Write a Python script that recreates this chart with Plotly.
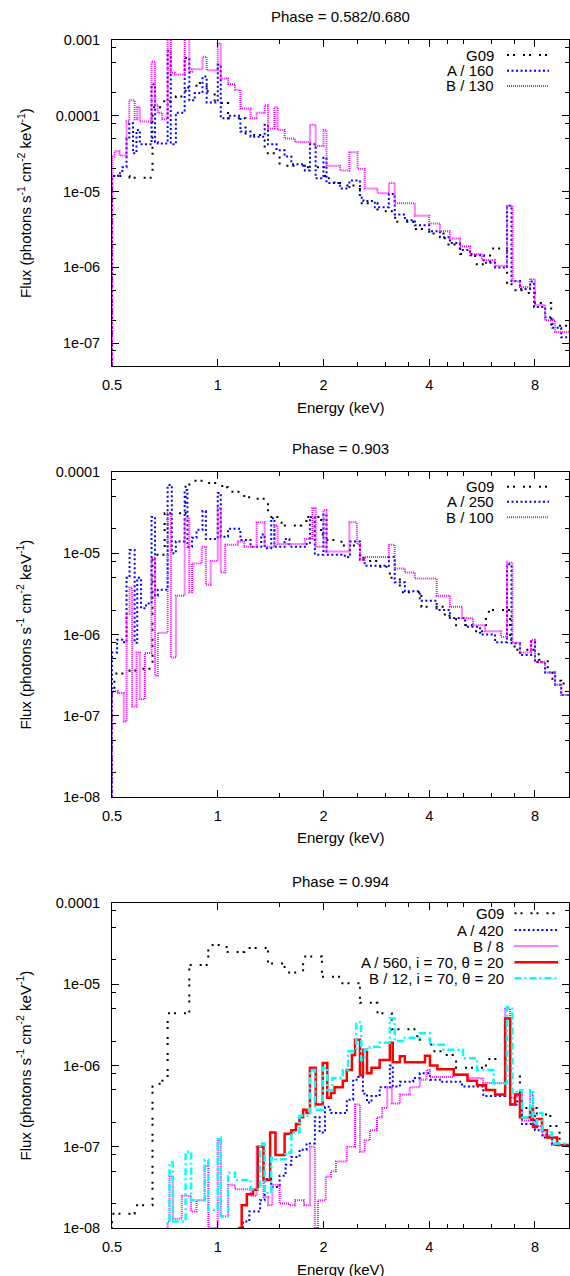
import math
import plotly.graph_objects as go

# ---------------- data (energy bin left edges in keV, flux in photons s^-1 cm^-2 keV^-1) ----------------
# Panel 1 : Phase = 0.582/0.680
p1_g09_e = [0.5, 0.561, 0.652, 0.69, 0.76, 0.81, 0.87, 0.93, 0.98, 1.07, 1.2, 1.36, 1.5, 1.77, 2.02, 2.15,
            2.3, 2.54, 2.85, 3.2, 3.6, 4.0, 4.43, 4.9, 5.4, 5.96, 6.66, 6.93, 7.5, 8.0, 8.9]
p1_g09_f = [1.6e-5, 1.52e-5, 1.3e-4, 1.55e-4, 1.8e-4, 2.37e-4, 2.7e-4, 2.1e-4, 1.47e-4, 9.3e-5, 5.6e-5, 3.2e-5,
            2.2e-5, 2.1e-5, 1.5e-5, 1.3e-5, 1.2e-5, 7e-6, 5.5e-6, 4e-6, 3.2e-6, 2.8e-6, 2.0e-6, 1.5e-6, 1.1e-6,
            1.77e-6, 6e-7, 5e-7, 4.6e-7, 3.4e-7, 1.7e-7]

p1_a_e = [0.5, 0.52, 0.535, 0.55, 0.56, 0.574, 0.587, 0.6, 0.648, 0.663, 0.675, 0.72, 0.735, 0.76, 0.805, 0.83,
          0.86, 0.905, 0.93, 1.0, 1.02, 1.07, 1.16, 1.24, 1.36, 1.39, 1.47, 1.55, 1.62, 1.77, 1.83, 1.9, 2.0,
          2.04, 2.23, 2.37, 2.54, 2.6, 2.8, 3.07, 3.19, 3.41, 3.64, 4.0, 4.29, 4.58, 4.89, 5.23, 5.73, 6.16,
          6.66, 6.86, 7.25, 7.75, 7.95, 8.55, 8.97, 9.5]
p1_a_f = [1.6e-5, 1.75e-5, 2.1e-5, 5e-5, 8e-5, 3.2e-5, 6.5e-5, 4.2e-5, 2.6e-4, 4.5e-5, 4.3e-5, 7.2e-4, 4.2e-5,
          1.1e-4, 5.8e-4, 1.6e-4, 2e-4, 3.3e-4, 1.5e-4, 4.7e-4, 9.3e-5, 1.0e-4, 6.2e-5, 5.3e-5, 7.6e-5, 4.2e-5,
          3.5e-5, 2.9e-5, 2.3e-5, 1.9e-5, 4.2e-5, 1.5e-5, 2.8e-5, 1.3e-5, 1.1e-5, 1.4e-5, 8.3e-6, 7.5e-6,
          6.2e-6, 9.3e-6, 5e-6, 4.2e-6, 3.6e-6, 3e-6, 2.5e-6, 2.1e-6, 1.7e-6, 1.45e-6, 1.15e-6, 1.0e-6,
          6.5e-6, 6.6e-7, 5.2e-7, 6.5e-7, 3e-7, 2.2e-7, 1.6e-7, 1.2e-7]

p1_b_e = [0.5, 0.508, 0.525, 0.55, 0.56, 0.58, 0.59, 0.6, 0.648, 0.663, 0.675, 0.695, 0.72, 0.735, 0.755, 0.805,
          0.83, 0.845, 0.905, 0.93, 1.0, 1.02, 1.07, 1.12, 1.16, 1.24, 1.29, 1.36, 1.39, 1.45, 1.48, 1.55, 1.66,
          1.83, 1.9, 2.0, 2.04, 2.23, 2.37, 2.5, 2.62, 2.85, 3.07, 3.19, 3.64, 4.0, 4.29, 4.58, 4.89, 5.23,
          5.65, 6.16, 6.66, 6.9, 7.25, 7.75, 8.0, 8.55, 9.13]
p1_b_f = [2.9e-5, 3.4e-5, 3.0e-5, 8.5e-5, 1.6e-4, 9e-5, 1.3e-4, 8.4e-5, 5.2e-4, 1.4e-4, 1.1e-4, 9e-5, 1.2e-3,
          3.7e-4, 3.5e-4, 1.2e-3, 3.8e-4, 4.1e-4, 6e-4, 4e-4, 9e-4, 3.1e-4, 2.6e-4, 2.2e-4, 1.25e-4, 9.3e-5,
          1.1e-4, 1.38e-4, 6.8e-5, 1.3e-4, 6.5e-5, 5e-5, 4.5e-5, 7.6e-5, 4.0e-5, 6.5e-5, 2.2e-5, 1.9e-5,
          3.3e-5, 2.0e-5, 1.1e-5, 9.5e-6, 1.3e-5, 7e-6, 4.8e-6, 3.8e-6, 3.0e-6, 2.4e-6, 1.9e-6, 1.5e-6,
          1.25e-6, 1.05e-6, 6.5e-6, 6.5e-7, 5.5e-7, 7e-7, 3.2e-7, 2e-7, 1.4e-7]

# Panel 2 : Phase = 0.903
p2_g09_e = [0.5, 0.508, 0.561, 0.587, 0.652, 0.706, 0.81, 0.83, 0.918, 1.03, 1.07, 1.19, 1.24, 1.39, 1.52, 1.73,
            1.79, 1.97, 2.02, 2.25, 2.54, 2.6, 2.85, 3.09, 3.3, 3.8, 4.43, 4.77, 5.3, 5.8, 6.0, 6.8, 7.0, 8.2,
            8.7, 8.97, 9.5]
p2_g09_f = [2.1e-7, 3.3e-7, 3.6e-7, 3.8e-7, 9.6e-6, 3.1e-5, 6.6e-5, 7.8e-5, 7.3e-5, 6.5e-5, 5.7e-5, 4.9e-5,
            4.7e-5, 2.8e-5, 2.2e-5, 2.5e-5, 2.8e-5, 1.7e-5, 1.46e-5, 1.25e-5, 9.5e-6, 8e-6, 6.8e-6, 5e-6,
            3.3e-6, 2.2e-6, 1.7e-6, 1.3e-6, 1.1e-6, 1.9e-6, 2.0e-6, 8.6e-7, 6.5e-7, 4.9e-7, 3.8e-7, 2.7e-7,
            2.5e-7]

p2_a_e = [0.5, 0.517, 0.535, 0.55, 0.561, 0.58, 0.59, 0.605, 0.625, 0.648, 0.663, 0.675, 0.72, 0.74, 0.76,
          0.805, 0.82, 0.845, 0.87, 0.905, 0.925, 1.0, 1.02, 1.07, 1.16, 1.24, 1.33, 1.36, 1.42, 1.45, 1.55,
          1.6, 1.77, 1.83, 1.89, 2.0, 2.04, 2.3, 2.38, 2.54, 2.62, 3.07, 3.19, 3.41, 3.76, 4.2, 4.58, 5.06,
          5.58, 6.16, 6.66, 6.86, 7.25, 7.8, 8.0, 8.55, 9.13, 9.5]
p2_a_f = [6e-7, 8.6e-7, 8e-7, 5e-6, 1.1e-5, 7.9e-7, 5e-6, 2.1e-6, 2.4e-6, 2.8e-5, 3e-6, 3.55e-6, 6.9e-5, 1e-5,
          1.4e-5, 6e-5, 1.2e-5, 1.55e-5, 1.94e-5, 3.3e-5, 1.5e-5, 5.5e-5, 1.6e-5, 2.0e-5, 1.46e-5, 1.2e-5,
          1.7e-5, 1.15e-5, 2.7e-5, 1.2e-5, 1.5e-5, 1.2e-5, 1.3e-5, 2.8e-5, 9.6e-6, 3.0e-5, 9.6e-6, 9e-6,
          1.4e-5, 8.3e-6, 7e-6, 9e-6, 4.4e-6, 3.4e-6, 2.6e-6, 2e-6, 1.6e-6, 1.25e-6, 1.0e-6, 8e-7, 7.3e-6,
          7.8e-7, 5.6e-7, 8.2e-7, 4.6e-7, 3.4e-7, 2.4e-7, 1.8e-7]

p2_b_e = [0.5, 0.52, 0.54, 0.55, 0.561, 0.57, 0.587, 0.6, 0.62, 0.648, 0.663, 0.675, 0.72, 0.735, 0.76, 0.805,
          0.83, 0.845, 0.9, 0.925, 0.955, 1.0, 1.02, 1.05, 1.14, 1.19, 1.29, 1.36, 1.45, 1.48, 1.77, 1.86, 1.9,
          2.0, 2.04, 2.37, 2.49, 2.54, 2.62, 3.07, 3.19, 3.41, 3.64, 4.2, 4.58, 4.96, 5.33, 5.77, 6.4, 6.66,
          6.9, 7.25, 7.8, 8.0, 8.55, 9.13, 9.5]
p2_b_f = [2e-7, 1.9e-7, 8.5e-8, 1.8e-6, 3.8e-6, 1.3e-7, 6e-7, 1.6e-7, 5.9e-7, 8.8e-6, 3.1e-7, 1.05e-6, 3.1e-5,
          5.2e-7, 3e-6, 2.7e-5, 3.3e-6, 7.5e-6, 1.2e-5, 4.1e-6, 8e-6, 3.6e-5, 5.8e-6, 1.27e-5, 1.4e-5, 1.2e-5,
          2.4e-5, 1.2e-5, 2.2e-5, 1.3e-5, 1.5e-5, 3.6e-5, 1.2e-5, 3.4e-5, 1.05e-5, 2.4e-5, 1.3e-5, 8.3e-6,
          9e-6, 1.27e-5, 6.5e-6, 5.8e-6, 4.9e-6, 3.0e-6, 2.2e-6, 1.6e-6, 1.3e-6, 1.1e-6, 9.4e-7, 7.7e-6,
          7.9e-7, 6e-7, 8.6e-7, 4.6e-7, 3.4e-7, 2.4e-7, 1.8e-7]

# Panel 3 : Phase = 0.994
p3_g09_e = [0.5, 0.58, 0.652, 0.683, 0.72, 0.83, 0.94, 1.06, 1.19, 1.39, 1.55, 1.75, 1.98, 2.23, 2.54, 2.85,
            3.13, 3.7, 4.05, 4.4, 4.77, 5.8, 6.8, 7.25, 8.1, 8.85, 9.4]
p3_g09_f = [1.5e-8, 1.9e-8, 5.5e-7, 6.5e-7, 4.4e-6, 1.73e-5, 3.05e-5, 2.5e-5, 2.8e-5, 1.8e-5, 1.4e-5, 2.2e-5,
            1.24e-5, 1.03e-5, 5.9e-6, 4.4e-6, 2.8e-6, 2.07e-6, 1.5e-6, 1.35e-6, 9.4e-7, 1.2e-6, 7.3e-7, 3e-7,
            2.5e-7, 1.8e-7, 1.05e-7]

p3_a_e = [1.18, 1.23, 1.32, 1.36, 1.42, 1.5, 1.56, 1.62, 1.71, 1.79, 1.89, 1.95, 2.02, 2.09, 2.33, 2.43, 2.51,
          2.59, 2.66, 2.74, 2.89, 3.09, 3.15, 3.3, 3.6, 3.76, 4.02, 4.29, 4.96, 5.7, 6.58, 6.8, 7.1, 7.35, 7.8,
          8.0, 8.4, 8.95]
p3_a_f = [1.2e-8, 1.6e-8, 2.2e-8, 4e-8, 3.2e-8, 4.4e-8, 6e-8, 7.5e-8, 9.2e-8, 1.1e-7, 2.3e-7, 1.5e-7, 3.1e-7,
          2.6e-7, 3.8e-7, 6.7e-7, 7.2e-7, 4.5e-7, 3.5e-7, 4.2e-7, 5.4e-7, 1e-6, 5.5e-7, 6.3e-7, 7e-7, 8e-7,
          6.7e-7, 6.3e-7, 5.5e-7, 4.2e-7, 3.8e-6, 3.3e-7, 3.6e-7, 1.9e-7, 2.6e-7, 1.6e-7, 1.3e-7, 1.05e-7]

p3_b_e = [0.72, 0.729, 0.745, 0.79, 0.84, 0.87, 0.918, 0.94, 1.0, 1.02, 1.07, 1.12, 1.24, 1.29, 1.35, 1.39,
          1.43, 1.5, 1.6, 1.66, 1.76, 1.83, 1.89, 1.93, 2.03, 2.1, 2.17, 2.33, 2.46, 2.54, 2.62, 2.71, 2.84,
          2.94, 3.04, 3.13, 3.3, 3.52, 3.76, 3.93, 4.02, 4.7, 5.14, 5.7, 6.58, 6.8, 7.1, 7.35, 7.75, 7.9, 8.4,
          8.95]
p3_b_f = [1.2e-8, 4.3e-8, 1.3e-8, 2.5e-8, 1.6e-8, 2.2e-8, 5.8e-8, 1.0e-8, 1.2e-7, 1.4e-8, 3.4e-8, 3.0e-8,
          2.5e-8, 1e-7, 2.4e-8, 1.9e-8, 3.4e-8, 2e-8, 1.9e-8, 2.2e-8, 1.9e-8, 1.0e-7, 1.0e-8, 2.2e-8, 4.3e-8,
          5e-8, 6.6e-8, 1e-7, 3.3e-7, 8.7e-8, 1.2e-7, 1.6e-7, 2.3e-7, 3e-7, 5.4e-7, 3.4e-7, 4.4e-7, 5.4e-7,
          6.7e-7, 8.8e-7, 7.2e-7, 7.8e-7, 7e-7, 6.1e-7, 5e-6, 4e-7, 4.4e-7, 2.1e-7, 4.4e-7, 1.8e-7, 1.4e-7,
          1.05e-7]

p3_ai_e = [1.15, 1.17, 1.21, 1.26, 1.3, 1.35, 1.41, 1.46, 1.55, 1.62, 1.67, 1.71, 1.75, 1.79, 1.83, 1.9, 1.99,
           2.05, 2.1, 2.15, 2.27, 2.33, 2.41, 2.46, 2.54, 2.59, 2.66, 2.74, 2.89, 3.09, 3.15, 3.3, 3.41, 3.89,
           4.02, 4.22, 4.7, 5.14, 5.47, 5.8, 6.16, 6.58, 6.8, 7.02, 7.25, 7.75, 7.9, 8.1, 8.38, 8.65, 9.25]
p3_ai_f = [1.0e-8, 1.9e-8, 2.6e-8, 2.95e-8, 1.0e-7, 3.9e-8, 1.5e-7, 7.9e-8, 1.45e-7, 1.6e-7, 1.9e-7, 2.3e-7,
           2.85e-7, 2.6e-7, 9.4e-7, 3.3e-7, 1.07e-6, 4e-7, 4.6e-7, 5.4e-7, 6.5e-7, 8.8e-7, 1.35e-6, 2.07e-6,
           7.6e-7, 1.56e-6, 8e-7, 9.4e-7, 1.17e-6, 1.9e-6, 1.1e-6, 1.3e-6, 1.1e-6, 1.32e-6, 1.0e-6, 9e-7,
           7.7e-7, 6.5e-7, 5.7e-7, 5e-7, 4.4e-7, 3.8e-6, 3.3e-7, 4.4e-7, 2.3e-7, 3e-7, 1.75e-7, 2.2e-7,
           1.6e-7, 1.3e-7, 1.05e-7]

p3_bi_e = [0.72, 0.729, 0.745, 0.81, 0.84, 0.918, 0.94, 1.0, 1.02, 1.07, 1.12, 1.24, 1.32, 1.36, 1.42, 1.46,
           1.56, 1.62, 1.71, 1.83, 1.89, 1.99, 2.05, 2.12, 2.27, 2.35, 2.48, 2.56, 2.62, 2.71, 2.89, 3.09, 3.19,
           3.37, 3.76, 4.02, 4.4, 4.99, 5.47, 6.1, 6.66, 6.9, 7.1, 7.35, 7.75, 7.9, 8.1, 8.4, 8.95]
p3_bi_f = [1.2e-8, 6.4e-8, 1.2e-8, 8.7e-8, 2.2e-8, 6.9e-8, 1.67e-8, 1.3e-7, 1.4e-8, 4.8e-8, 3.9e-8, 3e-8,
           1.1e-7, 2.7e-8, 7.3e-8, 7e-8, 8.5e-8, 1.5e-7, 2.4e-7, 8.8e-7, 2.85e-7, 9.4e-7, 5e-7, 7e-7, 8.8e-7,
           1.5e-6, 3.4e-6, 1.17e-6, 1.56e-6, 1.7e-6, 1.9e-6, 3.8e-6, 2e-6, 2.2e-6, 2.5e-6, 1.8e-6, 1.56e-6,
           1.23e-6, 8.8e-7, 6e-7, 5.2e-6, 4.6e-7, 5e-7, 2.3e-7, 5e-7, 1.9e-7, 2.6e-7, 1.5e-7, 1.1e-7]

E_MAX = 10.0
FLOOR = 1e-9

titles = ["Phase = 0.582/0.680", "Phase = 0.903", "Phase = 0.994"]
x_ticks = [0.5, 1, 2, 4, 8]
x_minor = [1.5, 2.5, 3, 3.5, 4.5, 5, 6, 7]

# ---------------- styles ----------------
ST_G09 = dict(color="#000000", width=2, dash="2px,4px,2px,8px")
ST_A = dict(color="#0000ff", width=2, dash="2px,2.5px")
ST_B = dict(color="#ff00ff", width=2, dash="1px,1px")
ST_AI = dict(color="#ff0000", width=2.5, dash="solid")
ST_BI = dict(color="#00ffff", width=2.5, dash="7px,3px,2px,3px")

panels = [
    dict(series=[("G09", p1_g09_e, p1_g09_f, ST_G09), ("A / 160", p1_a_e, p1_a_f, ST_A),
                 ("B / 130", p1_b_e, p1_b_f, ST_B)],
         yr=(5e-8, 1e-3), ydec=(-7, -3), px=(40, 366), title_y=17, xt_y=407,
         leg_rows=[55, 70.7, 86], leg_x=496.4, leg_s=(507, 549)),
    dict(series=[("G09", p2_g09_e, p2_g09_f, ST_G09), ("A / 250", p2_a_e, p2_a_f, ST_A),
                 ("B / 100", p2_b_e, p2_b_f, ST_B)],
         yr=(1e-8, 1e-4), ydec=(-8, -4), px=(472, 797), title_y=448, xt_y=837,
         leg_rows=[486.7, 501.7, 517.3], leg_x=496.4, leg_s=(507, 549)),
    dict(series=[("G09", p3_g09_e, p3_g09_f, ST_G09), ("A / 420", p3_a_e, p3_a_f, ST_A),
                 ("B / 8", p3_b_e, p3_b_f, ST_B),
                 ("A / 560, i = 70, θ = 20", p3_ai_e, p3_ai_f, ST_AI),
                 ("B / 12, i = 70, θ = 20", p3_bi_e, p3_bi_f, ST_BI)],
         yr=(1e-8, 1e-4), ydec=(-8, -4), px=(903, 1228), title_y=881, xt_y=1269,
         leg_rows=[913.3, 930, 946, 962.3, 978.3], leg_x=505.5, leg_s=(514.5, 558)),
]

W, H = 570, 1276
L, R, T, B = 112, 1, 40, 48
PW = W - L - R
PH = H - T - B


def py(ypix):
    return (H - B - ypix) / PH


def pxx(xpix):
    return (xpix - L) / PW


def lab(v):
    e = int(round(math.log10(v)))
    if e >= -4:
        return ("%.*f" % (-e, v))
    return "1e-%02d" % (-e)


FONT = "Liberation Sans, Arial, Helvetica, sans-serif"
fig = go.Figure()
annotations = []
shapes = []

for i, p in enumerate(panels):
    n = "" if i == 0 else str(i + 1)
    xa, ya = "x" + n, "y" + n
    for name, e, f, st in p["series"]:
        fig.add_trace(go.Scatter(
            x=[e[0]] + list(e) + [E_MAX], y=[FLOOR] + list(f) + [f[-1]],
            mode="lines", line=dict(shape="hv", **st), name=name,
            xaxis=xa, yaxis=ya, showlegend=False, hoverinfo="skip"))
    dom = [py(p["px"][1]), py(p["px"][0])]
    yt = [10.0 ** k for k in range(p["ydec"][0], p["ydec"][1] + 1)]
    ymin = [m * 10.0 ** k for k in range(p["ydec"][0] - 1, p["ydec"][1]) for m in (2, 5, 8)]
    ymin = [v for v in ymin if p["yr"][0] < v < p["yr"][1]]
    fig.layout["xaxis" + n] = dict(
        type="log", range=[math.log10(0.5), math.log10(E_MAX)], domain=[0, 1], anchor=ya,
        tickvals=x_ticks, ticktext=[str(v) for v in x_ticks], ticks="inside", ticklen=7,
        tickwidth=1, tickcolor="black", mirror="allticks", showline=True, linecolor="black",
        linewidth=1, showgrid=False, zeroline=False, ticklabelstandoff=6,
        tickfont=dict(size=14.5, color="black", family=FONT),
        minor=dict(tickvals=x_minor, ticks="inside", ticklen=4, tickcolor="black", showgrid=False))
    fig.layout["yaxis" + n] = dict(
        type="log", range=[math.log10(p["yr"][0]), math.log10(p["yr"][1])], domain=dom, anchor=xa,
        tickvals=yt, ticktext=[lab(v) for v in yt], ticks="inside", ticklen=7, tickwidth=1,
        tickcolor="black", mirror="allticks", showline=True, linecolor="black", linewidth=1,
        showgrid=False, zeroline=False, ticklabelstandoff=8,
        tickfont=dict(size=14.5, color="black", family=FONT),
        minor=dict(tickvals=ymin, ticks="inside", ticklen=4, tickcolor="black", showgrid=False))
    annotations.append(dict(text=titles[i], x=0.5, y=py(p["title_y"]), xref="paper", yref="paper",
                            showarrow=False, xanchor="center", yanchor="middle",
                            font=dict(size=15, color="black", family=FONT)))
    annotations.append(dict(text="Energy (keV)", x=0.5, y=py(p["xt_y"]), xref="paper", yref="paper",
                            showarrow=False, xanchor="center", yanchor="middle",
                            font=dict(size=15, color="black", family=FONT)))
    annotations.append(dict(text="Flux (photons s<sup>-1</sup> cm<sup>-2</sup> keV<sup>-1</sup>)",
                            x=pxx(24), y=(dom[0] + dom[1]) / 2, xref="paper", yref="paper",
                            textangle=-90, showarrow=False, xanchor="center", yanchor="middle",
                            font=dict(size=15, color="black", family=FONT)))
    for (name, e, f, st), ry in zip(p["series"], p["leg_rows"]):
        annotations.append(dict(text=name, x=pxx(p["leg_x"]), y=py(ry), xref="paper", yref="paper",
                                showarrow=False, xanchor="right", yanchor="middle",
                                font=dict(size=15, color="black", family=FONT)))
        shapes.append(dict(type="line", xref="paper", yref="paper",
                           x0=pxx(p["leg_s"][0]), x1=pxx(p["leg_s"][1]), y0=py(ry), y1=py(ry),
                           line=dict(color=st["color"], width=st["width"], dash=st["dash"])))

fig.update_layout(width=W, height=H, margin=dict(l=L, r=R, t=T, b=B),
                  paper_bgcolor="white", plot_bgcolor="white",
                  annotations=annotations, shapes=shapes, showlegend=False,
                  font=dict(family=FONT, color="black"))
fig.write_html("out.html", config={"displayModeBar": False},
               post_script="document.body.style.margin='0';document.body.style.padding='0';"
                           "document.body.style.overflow='hidden';")
